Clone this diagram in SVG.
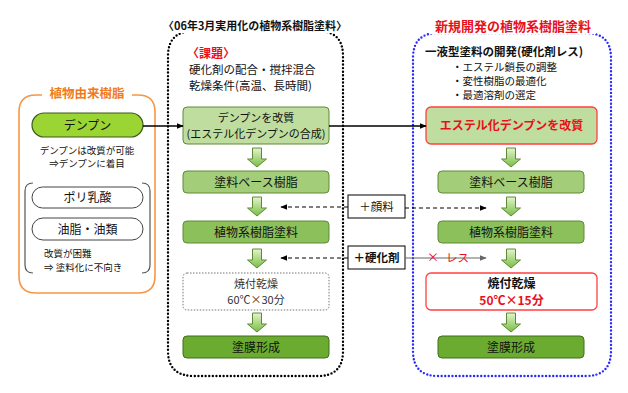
<svg xmlns="http://www.w3.org/2000/svg" width="628" height="393" viewBox="0 0 628 393">
<style>
text{font-family:"Noto Sans CJK JP","Noto Sans",sans-serif;fill:#111}
.c{text-anchor:middle}
.b{font-weight:bold}
.red{fill:#e8101a}
.pill{fill:#fff;stroke:#444;stroke-width:1}
.gbox{stroke:#5e8a36;stroke-width:1}
.conn{stroke:#000;stroke-width:1.3;fill:none}
.dash{stroke:#000;stroke-width:1;stroke-dasharray:4 3;fill:none}
</style>
<defs>
<linearGradient id="ag" x1="0" y1="0" x2="0" y2="1">
<stop offset="0" stop-color="#e4f5cc"/>
<stop offset="1" stop-color="#78bd45"/>
</linearGradient>
<path id="barrow" d="M-4.5 0 H4.5 V11 H9.5 L0 19 L-9.5 11 H-4.5 Z" fill="url(#ag)" stroke="#5e8a36" stroke-width="1"/>
<marker id="ah" viewBox="0 0 10 10" refX="9" refY="5" markerWidth="7" markerHeight="7" orient="auto-start-reverse" markerUnits="userSpaceOnUse">
<path d="M0 1 L10 5 L0 9 Z" fill="#000"/>
</marker>
<marker id="ahg" viewBox="0 0 10 10" refX="9" refY="5" markerWidth="7" markerHeight="7" orient="auto" markerUnits="userSpaceOnUse">
<path d="M0 1 L10 5 L0 9 Z" fill="#666"/>
</marker>
</defs>
<rect width="628" height="393" fill="#fff"/>

<!-- Left panel -->
<g id="left-panel">
<path d="M42 95 H36 Q19 95 19 112 V276 Q19 293 36 293 H138 Q155 293 155 276 V112 Q155 95 138 95 H132" fill="none" stroke="#f79646" stroke-width="1.6"/>
<text x="87" y="98" class="c b" font-size="12.5" style="fill:#f07a20">植物由来樹脂</text>
</g>
<g id="n-denpun">
<rect x="32" y="113" width="111" height="24" rx="12" fill="#9ad534" stroke="#3c5a1a" stroke-width="1.2"/>
<text x="87.5" y="129.5" class="c" font-size="12">デンプン</text>
</g>
<g id="n-denpun-note">
<text x="87" y="154" class="c" font-size="9.5">デンプンは改質が可能</text>
<text x="87" y="167" class="c" font-size="9.5">⇒デンプンに着目</text>
</g>
<g id="n-others">
<path d="M33 183 Q25 183 25 191 V265 Q25 273 33 273" fill="none" stroke="#555" stroke-width="1.2"/>
<path d="M142 183 Q150 183 150 191 V265 Q150 273 142 273" fill="none" stroke="#555" stroke-width="1.2"/>
</g>
<g id="n-polylactic">
<rect x="32" y="187" width="111" height="21" rx="10.5" class="pill"/>
<text x="87.5" y="202" class="c" font-size="12">ポリ乳酸</text>
</g>
<g id="n-oils">
<rect x="32" y="218" width="111" height="22" rx="11" class="pill"/>
<text x="87.5" y="233.5" class="c" font-size="12">油脂・油類</text>
</g>
<g id="n-others-note">
<text x="44" y="257" font-size="9.5">改質が困難</text>
<text x="44" y="271" font-size="9.5">⇒ 塗料化に不向き</text>
</g>

<!-- Middle panel -->
<g id="mid-panel">
<path d="M194 31 H318 Q343 31 343 56 V351 Q343 376 318 376 H194 Q168 376 168 351 V56 Q168 31 194 31" fill="none" stroke="#000" stroke-width="2.4" stroke-linecap="round" stroke-dasharray="0 3.6"/>
<rect x="162" y="17" width="188" height="16" fill="#fff"/>
<text x="255" y="30" class="c b" font-size="11" textLength="184" lengthAdjust="spacingAndGlyphs">〈06年3月実用化の植物系樹脂塗料〉</text>
</g>
<g id="mid-issues">
<text x="187" y="58" class="b red" font-size="12">〈課題〉</text>
<text x="189" y="74" font-size="11.5">硬化剤の配合・撹拌混合</text>
<text x="189" y="90" font-size="11.5">乾燥条件(高温、長時間)</text>
</g>
<g id="m1">
<rect x="183" y="107" width="146" height="37" rx="4" fill="#bedd9e" class="gbox"/>
<text x="256" y="122" class="c" font-size="11">デンプンを改質</text>
<text x="256" y="138" class="c" font-size="11">(エステル化デンプンの合成)</text>
</g>
<g id="m2">
<rect x="183" y="171" width="146" height="22" rx="4" fill="#a3cd78" class="gbox"/>
<text x="256" y="186.5" class="c" font-size="12">塗料ベース樹脂</text>
</g>
<g id="m3">
<rect x="183" y="221" width="146" height="22" rx="4" fill="#8cc05a" class="gbox"/>
<text x="256" y="236.5" class="c" font-size="12">植物系樹脂塗料</text>
</g>
<g id="m4">
<rect x="183" y="273" width="146" height="37" rx="4" fill="#fff" stroke="#777" stroke-width="1" stroke-dasharray="1.5 1.5"/>
<text x="256" y="288" class="c" font-size="11" style="fill:#333">焼付乾燥</text>
<text x="256" y="304" class="c" font-size="11" style="fill:#333">60℃×30分</text>
</g>
<g id="m5">
<rect x="183" y="336" width="146" height="22" rx="4" fill="#6aab30" stroke="#3f6e1a" stroke-width="1"/>
<text x="256" y="351.5" class="c" font-size="12">塗膜形成</text>
</g>

<!-- Right panel -->
<g id="right-panel">
<path d="M438 33 H586 Q611 33 611 58 V351 Q611 376 586 376 H438 Q413 376 413 351 V58 Q413 33 438 33" fill="none" stroke="#2a2aff" stroke-width="2.4" stroke-linecap="round" stroke-dasharray="0 3.6"/>
<rect x="430" y="17" width="166" height="17" fill="#fff"/>
<text x="513" y="31" class="c b red" font-size="13">新規開発の植物系樹脂塗料</text>
</g>
<g id="right-issues">
<rect x="423" y="44" width="172" height="14" fill="#fff"/>
<text x="425" y="56" class="b" font-size="11.5">一液型塗料の開発(硬化剤レス)</text>
<text x="452" y="71" font-size="10.5">・エステル鎖長の調整</text>
<text x="452" y="85" font-size="10.5">・変性樹脂の最適化</text>
<text x="452" y="99" font-size="10.5">・最適溶剤の選定</text>
</g>
<g id="r1">
<rect x="426" y="107" width="171" height="37" rx="5" fill="#bedd9e" stroke="#ff4040" stroke-width="1.3"/>
<text x="511.5" y="130" class="c b red" font-size="12">エステル化デンプンを改質</text>
</g>
<g id="r2">
<rect x="438" y="171" width="146" height="22" rx="4" fill="#a3cd78" class="gbox"/>
<text x="511" y="186.5" class="c" font-size="12">塗料ベース樹脂</text>
</g>
<g id="r3">
<rect x="438" y="221" width="146" height="22" rx="4" fill="#8cc05a" class="gbox"/>
<text x="511" y="236.5" class="c" font-size="12">植物系樹脂塗料</text>
</g>
<g id="r4">
<rect x="426" y="273" width="171" height="37" rx="5" fill="#fff" stroke="#ff4040" stroke-width="1.3"/>
<text x="511.5" y="288" class="c b" font-size="12">焼付乾燥</text>
<text x="511.5" y="305" class="c b red" font-size="12">50℃×15分</text>
</g>
<g id="r5">
<rect x="438" y="336" width="146" height="22" rx="4" fill="#6aab30" stroke="#3f6e1a" stroke-width="1"/>
<text x="511" y="351.5" class="c" font-size="12">塗膜形成</text>
</g>

<!-- Additive nodes -->
<g id="add-pigment">
<rect x="348" y="195" width="57" height="23" fill="#fff" stroke="#000" stroke-width="1"/>
<text x="376.5" y="211" class="c" font-size="11.5">＋顔料</text>
</g>
<g id="add-hardener">
<rect x="348" y="246" width="57" height="23" fill="#fff" stroke="#000" stroke-width="1"/>
<text x="376.5" y="262" class="c b" font-size="11.5">＋硬化剤</text>
</g>

<!-- Connectors -->
<g id="connectors">
<line x1="143" y1="126" x2="183" y2="126" class="conn" marker-end="url(#ah)"/>
<line x1="329" y1="126" x2="426" y2="126" class="conn" marker-end="url(#ah)"/>
<use href="#barrow" x="257" y="148"/>
<use href="#barrow" x="257" y="197"/>
<use href="#barrow" x="257" y="249"/>
<use href="#barrow" x="257" y="313"/>
<use href="#barrow" x="511" y="148"/>
<use href="#barrow" x="511" y="197"/>
<use href="#barrow" x="511" y="249"/>
<use href="#barrow" x="511" y="313"/>
<line x1="348" y1="207" x2="281" y2="207" class="dash" marker-end="url(#ah)"/>
<line x1="348" y1="258" x2="281" y2="258" class="dash" marker-end="url(#ah)"/>
<line x1="405" y1="208" x2="486" y2="208" class="dash" marker-end="url(#ah)"/>
<line x1="405" y1="258" x2="486" y2="258" stroke="#666" stroke-width="1" marker-end="url(#ahg)"/>
<text x="427" y="262" class="red" font-size="12">×</text>
<text x="446" y="262" class="red" font-size="11.5">レス</text>
</g>
</svg>
